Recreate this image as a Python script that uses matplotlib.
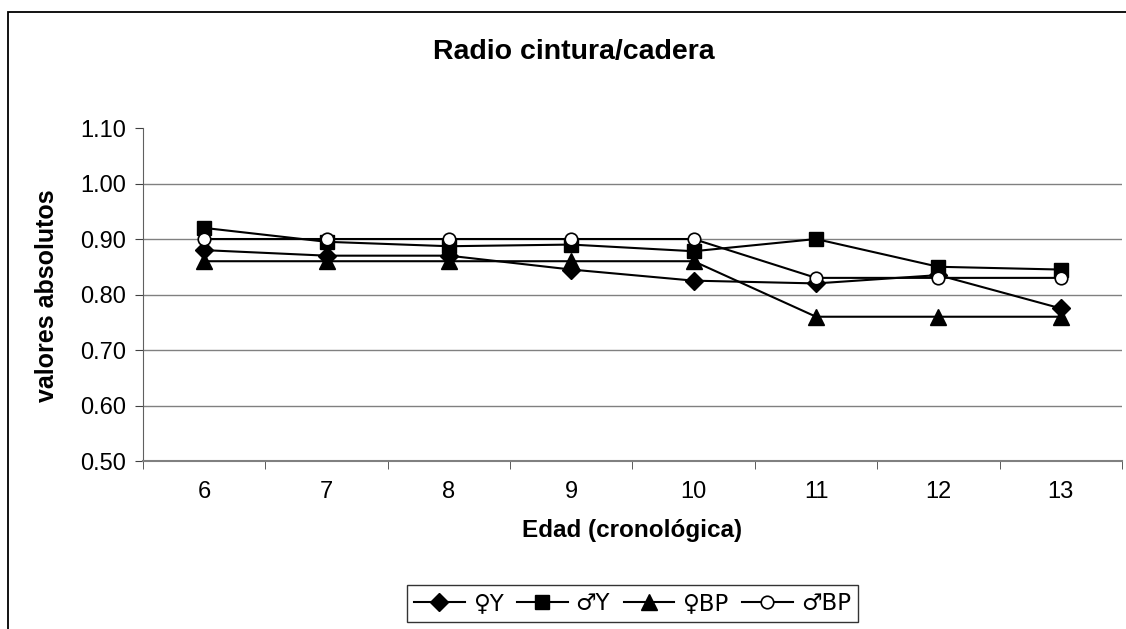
import matplotlib.pyplot as plt
import numpy as np
from matplotlib.patches import Rectangle
from matplotlib.ticker import FixedLocator

plt.rcParams['font.family'] = ['Liberation Sans', 'DejaVu Sans']

edades = ['6', '7', '8', '9', '10', '11', '12', '13']
mujeres_y = [0.88, 0.87, 0.87, 0.845, 0.825, 0.82, 0.835, 0.775]
hombres_y = [0.92, 0.895, 0.887, 0.89, 0.878, 0.90, 0.85, 0.845]
mujeres_bp = [0.86, 0.86, 0.86, 0.86, 0.86, 0.76, 0.76, 0.76]
hombres_bp = [0.90, 0.90, 0.90, 0.90, 0.90, 0.83, 0.83, 0.83]
etiquetas = ['\u2640Y', '\u2642Y', '\u2640BP', '\u2642BP']

fig = plt.figure(figsize=(11.26, 6.29), dpi=100)
ax = fig.add_axes([0.127, 0.267, 0.8694, 0.5295])

x = np.arange(len(edades))
ax.plot(x, mujeres_y, color='black', lw=1.5, marker='D', ms=9.5, mfc='black', label=etiquetas[0])
ax.plot(x, hombres_y, color='black', lw=1.5, marker='s', ms=10, mfc='black', label=etiquetas[1])
ax.plot(x, mujeres_bp, color='black', lw=1.5, marker='^', ms=11, mfc='black', label=etiquetas[2])
ax.plot(x, hombres_bp, color='black', lw=1.5, marker='o', ms=9, mfc='white', mew=1.2,
        label=etiquetas[3])

ax.set_xlim(-0.5, len(edades) - 0.5)
ax.set_ylim(0.5, 1.1)
ax.set_yticks(np.arange(0.5, 1.101, 0.1))
ax.set_yticklabels(['%.2f' % v for v in np.arange(0.5, 1.101, 0.1)])
ax.set_xticks(x)
ax.set_xticklabels(edades)
ax.xaxis.set_minor_locator(FixedLocator(np.arange(-0.5, len(edades), 1.0)))
ax.tick_params(axis='x', which='major', length=0, pad=14, labelsize=17)
ax.tick_params(axis='x', which='minor', length=6, color='#404040')
ax.tick_params(axis='y', length=6, color='#404040', pad=6, labelsize=17)

for v in [0.6, 0.7, 0.8, 0.9, 1.0]:
    ax.axhline(v, color='#808080', lw=1, zorder=0)

for s in ['top', 'right']:
    ax.spines[s].set_visible(False)
ax.spines['left'].set_color('#606060')
ax.spines['bottom'].set_color('#808080')
ax.spines['bottom'].set_linewidth(1.5)

centro = 0.127 + 0.8694 / 2
fig.text(0.51, 0.917, 'Radio cintura/cadera', ha='center', va='center',
         fontsize=20.5, fontweight='bold')
fig.text(centro, 0.157, 'Edad (cronológica)', ha='center', va='center',
         fontsize=17.5, fontweight='bold')
fig.text(0.0417, 0.53, 'valores absolutos', ha='center', va='center',
         rotation=90, fontsize=18, fontweight='bold')

leg = fig.legend(loc='center', bbox_to_anchor=(centro, 0.041), ncol=4, frameon=True,
                 fancybox=False, edgecolor='black', handlelength=2.2,
                 handletextpad=0.35, columnspacing=0.6, borderpad=0.3,
                 prop={'family': ['DejaVu Sans'], 'size': 16.5})
leg.get_frame().set_linewidth(1)

fig.patches.append(Rectangle((8 / 1126, -0.1), 1.2, 1 - 12 / 629 + 0.1,
                             transform=fig.transFigure, fill=False,
                             edgecolor='black', lw=1.3))

fig.savefig('out.png', dpi=100)
